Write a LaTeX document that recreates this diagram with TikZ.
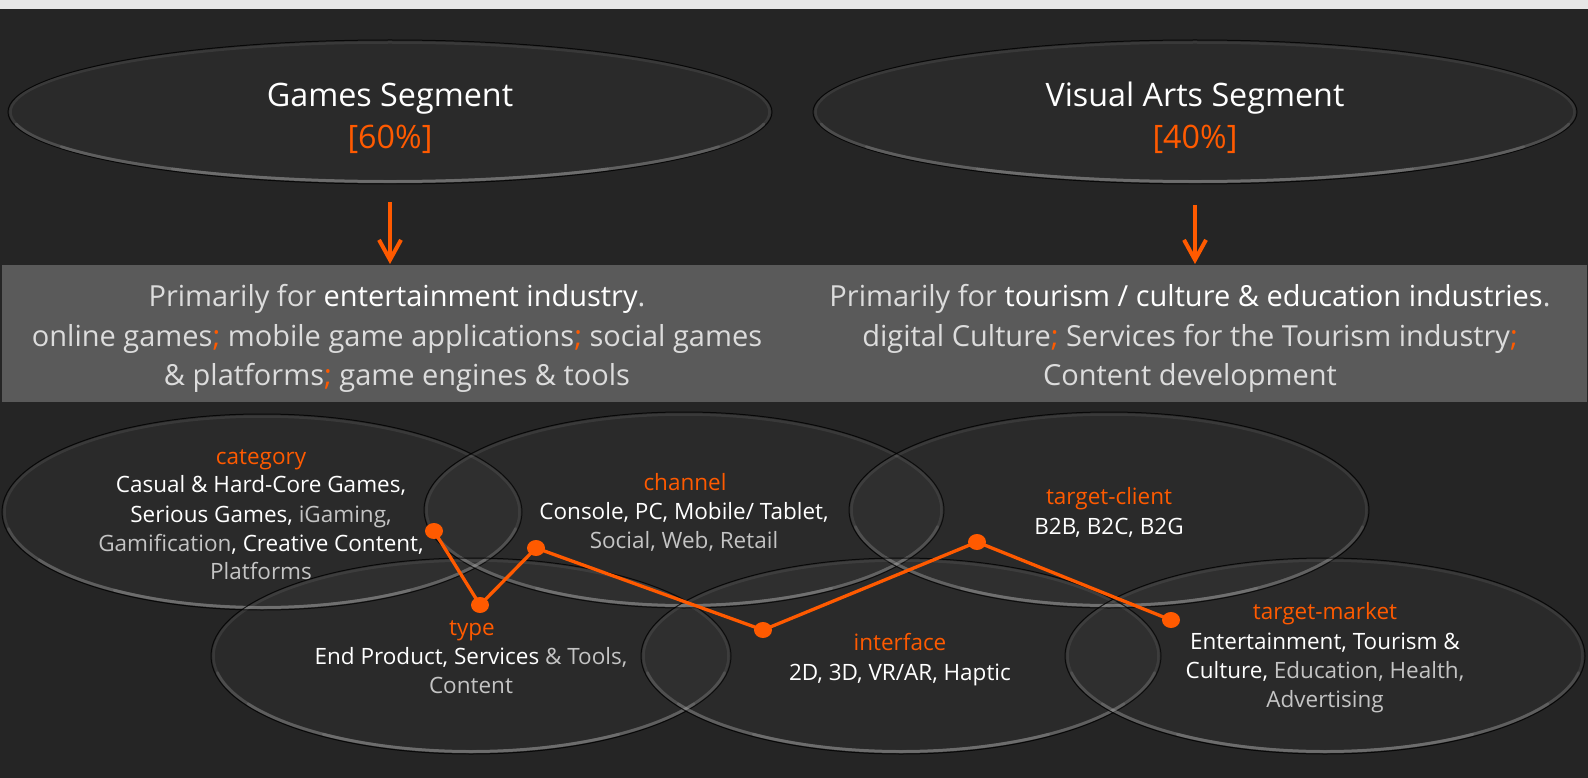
\documentclass[tikz,border=0pt]{standalone}
\usepackage{fontspec}
\setmainfont{Open Sans}
\usetikzlibrary{arrows.meta,shapes.geometric}
\definecolor{bgc}{HTML}{252525}
\definecolor{stripc}{HTML}{E6E6E6}
\definecolor{bandc}{HTML}{5A5A5A}
\definecolor{org}{HTML}{FF5A00}
\definecolor{lt}{HTML}{DCDCDC}
\definecolor{dim}{HTML}{C4C4C4}
\definecolor{rimc}{HTML}{A8A8A8}
\newcommand\Wt[1]{\textcolor{white}{#1}}
\newcommand\Dm[1]{\textcolor{dim}{#1}}
\newcommand\Sc{\textcolor{org}{;}}
\tikzset{
  glass/.style={ellipse, draw=black, draw opacity=0.8, line width=1pt, fill=white, fill opacity=0.025, inner sep=0pt},
  rim/.style={draw=rimc, line width=2.5pt, opacity=0.12},
  hl/.style={draw=rimc, line width=3pt, line cap=round},
  ttl/.style={font=\fontsize{32.3}{38}\selectfont, text=white, inner sep=0pt, text height=27.5pt, text depth=4.8pt},
  bnd/.style={font=\fontsize{29}{35}\selectfont, text=lt, inner sep=0pt, text height=24.6pt, text depth=4.4pt},
  sm/.style={font=\fontsize{22.5}{27}\selectfont, text=white, inner sep=0pt, text height=19.1pt, text depth=3.4pt},
  lab/.style={sm, text=org},
  dot/.style={ellipse, fill=org, minimum width=18pt, minimum height=16pt, inner sep=0pt},
  pline/.style={draw=org, line width=3.3pt, line join=round},
  oarrow/.style={draw=org, line width=4pt, -{Straight Barb[length=20pt, width=22pt]}}
}
\newcommand\glassell[5]{%
  \node[glass, minimum width={2*#4pt}, minimum height={2*#5pt}] (#1) at (#2,#3) {};
  \pgfmathsetmacro\rxi{#4-2.5}\pgfmathsetmacro\ryi{#5-2.5}%
  \draw[rim] (#2,#3) ellipse [x radius=\rxi, y radius=\ryi];
  \draw[hl, opacity=0.18] (#2,#3) ++(10:{\rxi} and {\ryi}) arc [start angle=10, end angle=170, x radius=\rxi, y radius=\ryi];
  \draw[hl, opacity=0.2] (#2,#3) ++(30:{\rxi} and {\ryi}) arc [start angle=30, end angle=150, x radius=\rxi, y radius=\ryi];
  \draw[hl, opacity=0.2] (#2,#3) ++(55:{\rxi} and {\ryi}) arc [start angle=55, end angle=125, x radius=\rxi, y radius=\ryi];
}
\begin{document}
\begin{tikzpicture}[x=1pt,y=-1pt]
\useasboundingbox (0,0) rectangle (1588,778);
\fill[bgc] (0,0) rectangle (1588,778);
\fill[stripc] (0,0) rectangle (1588,9);

% top segment ellipses
\glassell{games}{390}{112}{382}{72}
\glassell{visual}{1195}{112}{382}{72}
\node[ttl] (games-t) at (390,95) {Games Segment};
\node[ttl, text=org] (games-p) at (390,137) {[60\%]};
\node[ttl] (visual-t) at (1195,95) {Visual Arts Segment};
\node[ttl, text=org] (visual-p) at (1195,137) {[40\%]};

% band
\node[fill=bandc, minimum width=1585pt, minimum height=137pt, inner sep=0pt, anchor=north west] (band) at (2,265) {};

% arrows
\coordinate (ga1) at (390,202);
\coordinate (ga2) at (390,264);
\coordinate (va1) at (1195,205);
\coordinate (va2) at (1195,264);
\draw[oarrow] (ga1) -- (ga2);
\draw[oarrow] (va1) -- (va2);

% band texts
\node[bnd] (l1) at (397,296) {Primarily for \Wt{entertainment industry}.};
\node[bnd] (l2) at (397,336) {online games\Sc{} mobile game applications\Sc{} social games};
\node[bnd] (l3) at (397,375) {\& platforms\Sc{} game engines \& tools};
\node[bnd] (r1) at (1190,296) {Primarily for \Wt{tourism / culture \& education industries}.};
\node[bnd] (r2) at (1190,336) {digital Culture\Sc{} Services for the Tourism industry\Sc};
\node[bnd] (r3) at (1190,375) {Content development};

% bottom ellipses
\glassell{cat}{262}{512}{260}{98}
\glassell{chan}{684}{510}{260}{98}
\glassell{tcl}{1109}{510}{260}{98}
\glassell{typ}{471}{656}{260}{98}
\glassell{intf}{901}{656}{260}{98}
\glassell{tmk}{1325}{656}{260}{98}

% orange polyline
\node[dot] (p1) at (434,531) {};
\node[dot] (p2) at (480,605) {};
\node[dot] (p3) at (536,548) {};
\node[dot] (p4) at (763,630) {};
\node[dot] (p5) at (977,542) {};
\node[dot] (p6) at (1171,620) {};
\draw[pline] (p1.center) -- (p2.center) -- (p3.center) -- (p4.center) -- (p5.center) -- (p6.center);

% bottom texts
\node[lab] (cat-l) at (261,457) {category};
\node[sm] (cat-1) at (261,485) {Casual \& Hard-Core Games,};
\node[sm] (cat-2) at (261,515) {Serious Games, \Dm{iGaming,}};
\node[sm] (cat-3) at (261,544) {\Dm{Gamification}, Creative Content,};
\node[sm] (cat-4) at (261,572) {\Dm{Platforms}};

\node[lab] (chan-l) at (685,483) {channel};
\node[sm] (chan-1) at (684,512) {Console, PC, Mobile/ Tablet,};
\node[sm] (chan-2) at (684,541) {\Dm{Social, Web, Retail}};

\node[lab] (tcl-l) at (1109,497) {target-client};
\node[sm] (tcl-1) at (1109,527) {B2B, B2C, B2G};

\node[lab] (typ-l) at (472,628) {type};
\node[sm] (typ-1) at (471,657) {End Product, Services \Dm{\& Tools,}};
\node[sm] (typ-2) at (471,686) {\Dm{Content}};

\node[lab] (intf-l) at (900,643) {interface};
\node[sm] (intf-1) at (900,673) {2D, 3D, VR/AR, Haptic};

\node[lab] (tmk-l) at (1325,612) {target-market};
\node[sm] (tmk-1) at (1325,642) {Entertainment, Tourism \&};
\node[sm] (tmk-2) at (1325,671) {Culture, \Dm{Education, Health,}};
\node[sm] (tmk-3) at (1325,700) {\Dm{Advertising}};
\end{tikzpicture}
\end{document}
